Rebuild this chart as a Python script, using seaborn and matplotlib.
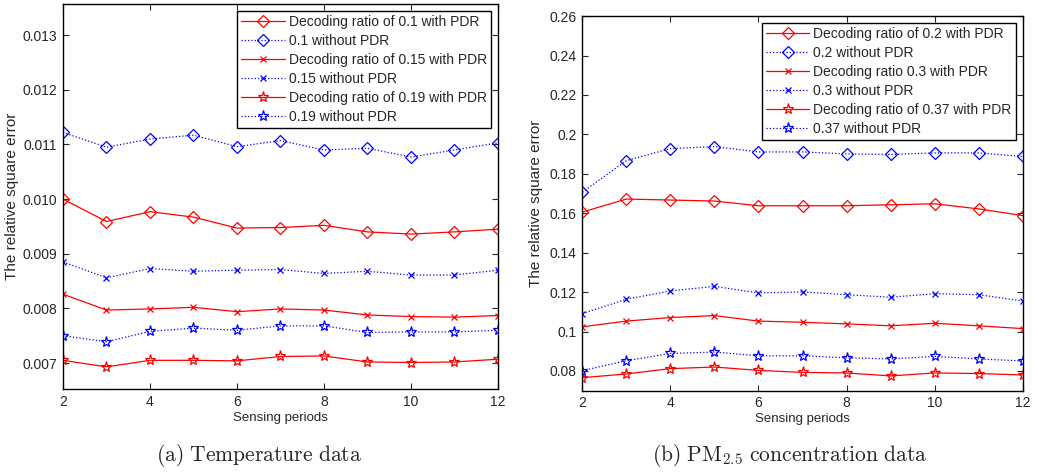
import matplotlib
matplotlib.use("Agg")
import matplotlib.pyplot as plt
import seaborn as sns

# sensing periods on the x axis
periods = [2, 3, 4, 5, 6, 7, 8, 9, 10, 11, 12]

# (a) temperature data
temp_01_pdr = [0.01000, 0.00959, 0.00977, 0.00967, 0.00947, 0.00948, 0.00952, 0.00940, 0.00936, 0.00940, 0.00945]
temp_01_raw = [0.01122, 0.01095, 0.01110, 0.01117, 0.01096, 0.01107, 0.01090, 0.01093, 0.01077, 0.01090, 0.01103]
temp_015_pdr = [0.00826, 0.00797, 0.00799, 0.00802, 0.00794, 0.00799, 0.00797, 0.00788, 0.00785, 0.00784, 0.00787]
temp_015_raw = [0.00885, 0.00856, 0.00873, 0.00868, 0.00870, 0.00871, 0.00864, 0.00868, 0.00861, 0.00861, 0.00870]
temp_019_pdr = [0.00705, 0.00693, 0.00705, 0.00705, 0.00704, 0.00712, 0.00713, 0.00702, 0.00701, 0.00702, 0.00707]
temp_019_raw = [0.00750, 0.00739, 0.00758, 0.00764, 0.00760, 0.00768, 0.00768, 0.00756, 0.00757, 0.00757, 0.00760]

# (b) PM2.5 concentration data
pm_02_pdr = [0.1606, 0.1672, 0.1667, 0.1662, 0.1638, 0.1638, 0.1638, 0.1643, 0.1648, 0.1622, 0.1588]
pm_02_raw = [0.1707, 0.1867, 0.1928, 0.1938, 0.1911, 0.1911, 0.1901, 0.1898, 0.1906, 0.1906, 0.1888]
pm_03_pdr = [0.1024, 0.1053, 0.1071, 0.1081, 0.1053, 0.1047, 0.1039, 0.1029, 0.1042, 0.1029, 0.1015]
pm_03_raw = [0.1091, 0.1164, 0.1206, 0.1229, 0.1196, 0.1201, 0.1187, 0.1174, 0.1192, 0.1187, 0.1155]
pm_037_pdr = [0.0766, 0.0785, 0.0812, 0.0820, 0.0803, 0.0793, 0.0790, 0.0775, 0.0790, 0.0787, 0.0780]
pm_037_raw = [0.0802, 0.0852, 0.0889, 0.0896, 0.0877, 0.0877, 0.0867, 0.0861, 0.0874, 0.0861, 0.0851]

temp_labels = [
    "Decoding ratio of 0.1 with PDR", "0.1 without PDR",
    "Decoding ratio of 0.15 with PDR", "0.15 without PDR",
    "Decoding ratio of 0.19 with PDR", "0.19 without PDR",
]
pm_labels = [
    "Decoding ratio of 0.2 with PDR", "0.2 without PDR",
    "Decoding ratio 0.3 with PDR", "0.3 without PDR",
    "Decoding ratio of 0.37 with PDR", "0.37 without PDR",
]

sns.set_theme(style="ticks")
plt.rcParams["font.family"] = ["Liberation Sans", "DejaVu Sans"]
plt.rcParams["xtick.direction"] = "in"
plt.rcParams["ytick.direction"] = "in"


def draw_panel(ax, series, labels, ylim, yticks, yfmt, ylabel_x):
    markers = ["D", "D", "x", "x", "*", "*"]
    sizes = [6, 6, 5, 5, 8, 8]
    for i, (vals, lab) in enumerate(zip(series, labels)):
        with_pdr = i % 2 == 0
        color = "#ff0000" if with_pdr else "#0000ff"
        sns.lineplot(
            x=periods, y=vals, ax=ax, label=lab,
            color=color, linestyle="-" if with_pdr else ":",
            linewidth=0.9, marker=markers[i], markersize=sizes[i],
            markerfacecolor="none", markeredgecolor=color, markeredgewidth=0.9,
        )
    ax.set_xlim(2, 12)
    ax.set_xticks([2, 4, 6, 8, 10, 12])
    ax.set_ylim(*ylim)
    ax.set_yticks(yticks)
    ax.set_yticklabels([yfmt(t) for t in yticks])
    ax.tick_params(labelsize=10, length=4, width=0.8, top=True, right=True, pad=4)
    for sp in ax.spines.values():
        sp.set_visible(True)
        sp.set_color("black")
        sp.set_linewidth(1.0)
    ax.set_xlabel("Sensing periods", fontsize=9.5, labelpad=2)
    ax.set_ylabel("The relative square error", fontsize=11)
    ax.yaxis.set_label_coords(ylabel_x, 0.5)
    leg = ax.legend(
        loc="upper right", fontsize=10, frameon=True, fancybox=False,
        framealpha=1, edgecolor="black", handlelength=3.1, handletextpad=0.3,
        labelspacing=0.36, borderpad=0.3, borderaxespad=0.5,
    )
    leg.get_frame().set_linewidth(1.0)


fig = plt.figure(figsize=(10.38, 4.73), dpi=100)
ax1 = fig.add_axes([0.0607, 0.177, 0.419, 0.8145])
ax2 = fig.add_axes([0.561, 0.174, 0.4243, 0.792])

draw_panel(
    ax1,
    [temp_01_pdr, temp_01_raw, temp_015_pdr, temp_015_raw, temp_019_pdr, temp_019_raw],
    temp_labels, (0.00652, 0.01357),
    [0.007, 0.008, 0.009, 0.010, 0.011, 0.012, 0.013],
    lambda t: f"{t:.3f}",
    -0.101,
)
draw_panel(
    ax2,
    [pm_02_pdr, pm_02_raw, pm_03_pdr, pm_03_raw, pm_037_pdr, pm_037_raw],
    pm_labels, (0.07, 0.26),
    [0.08, 0.10, 0.12, 0.14, 0.16, 0.18, 0.20, 0.22, 0.24, 0.26],
    lambda t: f"{t:.2f}".rstrip("0") if round(t * 100) % 10 == 0 else f"{t:.2f}",
    -0.089,
)

fig.text(0.249, 0.036, r"$\mathrm{(a)\ Temperature\ data}$", ha="center", va="center",
         fontsize=15.5, math_fontfamily="cm")
fig.text(0.761, 0.036, r"$\mathrm{(b)\ PM_{2.5}\ concentration\ data}$", ha="center",
         va="center", fontsize=15.5, math_fontfamily="cm")

fig.savefig("out.png", dpi=100)
